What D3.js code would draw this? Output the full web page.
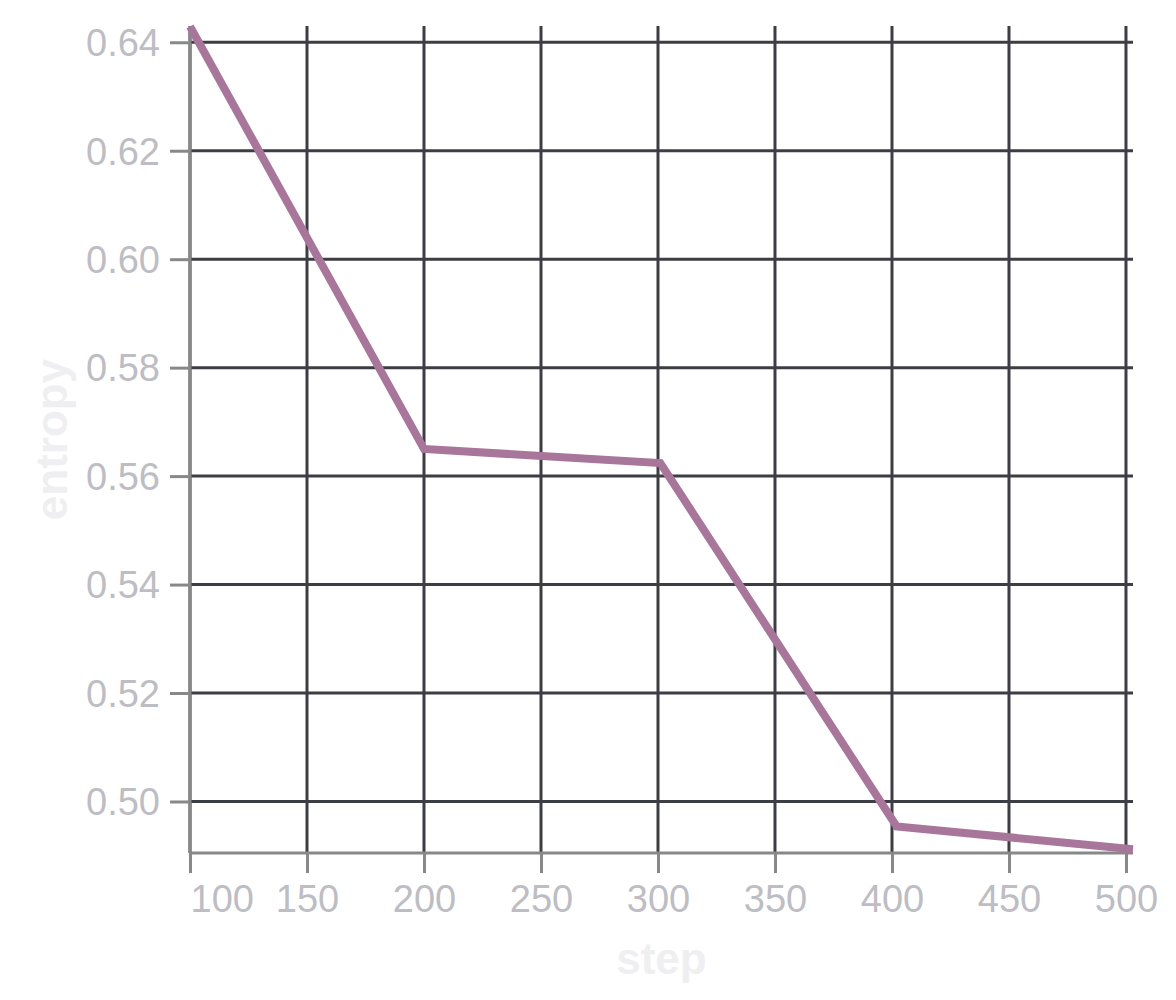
<!DOCTYPE html>
<html lang="en">
<head>
    <meta charset="UTF-8">
    <title>entropy vs step</title>
    <script src="https://d3js.org/d3.v7.min.js"></script>
    <style>
        body { margin: 0; background: #fff; }
        text { font-family: "Liberation Sans", Arial, sans-serif; }
        .tick-label { font-size: 38px; fill: #bdbdc3; }
        .axis-title { font-size: 44px; font-weight: bold; fill: #efeff1; }
    </style>
</head>
<body>
    <svg width="1176" height="1000"></svg>
    <script>
        // data
        const steps = [100, 200, 301, 402, 503];
        const entropy = [0.6429, 0.5650, 0.5624, 0.4954, 0.4912];
        const xTicks = [100, 150, 200, 250, 300, 350, 400, 450, 500];
        const yTicks = [0.50, 0.52, 0.54, 0.56, 0.58, 0.60, 0.62, 0.64];
        const yDomain = [0.4905, 0.6430];

        const svg = d3.select("svg");
        const mLeft = 190, mRight = 1133, mTop = 26, mBottom = 853;

        const x = d3.scaleLinear().domain(d3.extent(steps)).range([mLeft, mRight]);
        const y = d3.scaleLinear().domain(yDomain).range([mBottom, mTop]);

        // grid lines
        const grid = svg.append("g").attr("stroke", "#3d3d44").attr("stroke-width", 3);
        grid.selectAll(".vg").data(xTicks).enter().append("line")
            .attr("x1", d => x(d)).attr("x2", d => x(d))
            .attr("y1", mTop).attr("y2", mBottom);
        grid.selectAll(".hg").data(yTicks).enter().append("line")
            .attr("x1", mLeft).attr("x2", mRight)
            .attr("y1", d => y(d)).attr("y2", d => y(d));

        // axes
        const axisColor = "#888888";
        const xAxis = svg.append("g").attr("transform", `translate(0,${mBottom})`)
            .call(d3.axisBottom(x).tickValues(xTicks).tickSize(20).tickPadding(12).tickFormat(d3.format("d")));
        const yAxis = svg.append("g").attr("transform", `translate(${mLeft},0)`)
            .call(d3.axisLeft(y).tickValues(yTicks).tickSize(20).tickPadding(10).tickFormat(d3.format(".2f")));

        [xAxis, yAxis].forEach(ax => {
            ax.select(".domain").remove();
            ax.attr("font-size", null).attr("font-family", null);
            ax.selectAll(".tick line").attr("stroke", axisColor).attr("stroke-width", 3);
            ax.selectAll(".tick text").attr("class", "tick-label").attr("fill", null);
        });
        // first x label flush with the domain start
        xAxis.selectAll(".tick text").filter(d => d === x.domain()[0]).attr("text-anchor", "start");
        yAxis.selectAll(".tick text").attr("dy", "0.35em");

        svg.append("line").attr("x1", mLeft).attr("x2", mRight).attr("y1", mBottom).attr("y2", mBottom)
            .attr("stroke", axisColor).attr("stroke-width", 3);
        svg.append("line").attr("x1", mLeft).attr("x2", mLeft).attr("y1", mTop).attr("y2", mBottom)
            .attr("stroke", axisColor).attr("stroke-width", 3);

        // axis titles
        svg.append("text").attr("class", "axis-title")
            .attr("x", (mLeft + mRight) / 2).attr("y", 974)
            .attr("text-anchor", "middle").text("step");
        svg.append("text").attr("class", "axis-title")
            .attr("transform", `translate(67,${(mTop + mBottom) / 2}) rotate(-90)`)
            .attr("text-anchor", "middle").text("entropy");

        // line
        const line = d3.line().x((d, i) => x(steps[i])).y(d => y(d));
        svg.append("path").datum(entropy)
            .attr("d", line)
            .attr("fill", "none")
            .attr("stroke", "#a8759b")
            .attr("stroke-width", 8);
    </script>
</body>
</html>
